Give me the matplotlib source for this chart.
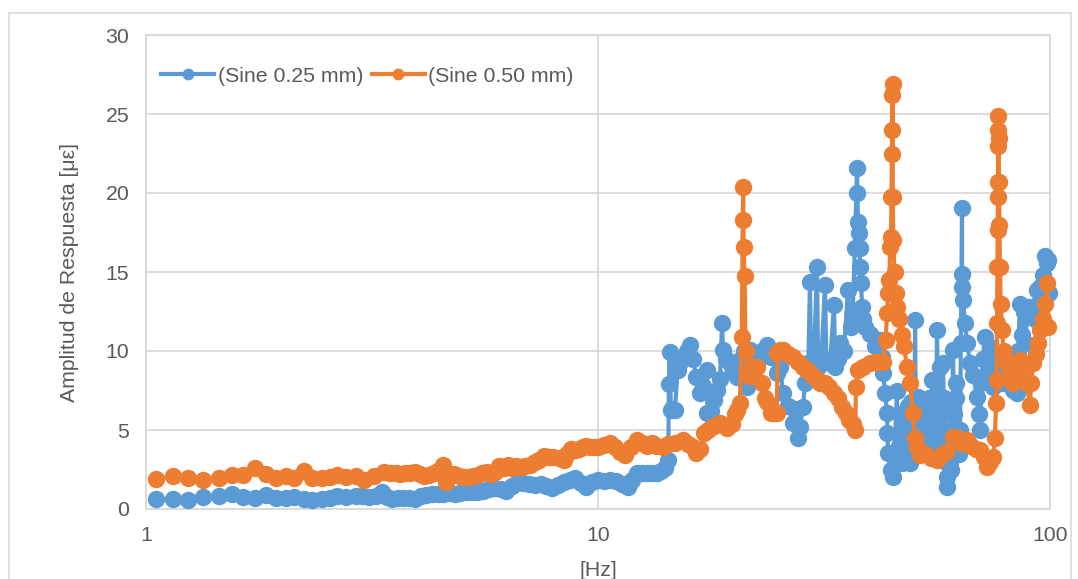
import matplotlib
matplotlib.use("Agg")
import matplotlib.pyplot as plt
from matplotlib.patches import Rectangle
from matplotlib.ticker import FixedLocator, NullLocator, FixedFormatter

plt.rcParams['font.family'] = ['Liberation Sans', 'DejaVu Sans']

# ---- data ----
freq_025 = [1.05, 1.15, 1.24, 1.34, 1.45, 1.55, 1.64, 1.74, 1.84, 1.94, 2.04, 2.13, 2.24, 2.33, 2.45,
            2.55, 2.64, 2.77, 2.91, 3.01, 3.11, 3.22, 3.33, 3.42, 3.50, 3.61, 3.71, 3.82, 3.93, 4.05,
            4.17, 4.30, 4.42, 4.55, 4.69, 4.82, 4.96, 5.11, 5.26, 5.41, 5.57, 5.74, 5.91, 6.09, 6.27,
            6.45, 6.64, 6.84, 7.05, 7.26, 7.47, 7.69, 7.92, 8.15, 8.40, 8.65, 8.90, 9.16, 9.43, 9.70,
            10.0, 10.3, 10.63, 10.95, 11.3, 11.65, 11.9, 12.2, 12.5, 12.85, 13.2, 13.51, 13.8, 14.1, 14.3,
            14.35, 14.4, 14.5, 14.6, 14.8, 15.0, 15.2, 15.42, 15.7, 15.98, 16.2, 16.5, 16.82, 17.1, 17.43,
            17.45, 17.8, 18.1, 18.34, 18.62, 18.81, 18.91, 19.2, 19.59, 19.9, 20.3, 20.7, 21.0, 21.36, 21.7,
            22.1, 22.47, 23.0, 23.65, 24.2, 24.89, 25.3, 25.66, 26.3, 27.01, 27.3, 27.70, 28.0, 28.41, 28.7,
            29.0, 29.2, 29.44, 29.6, 30.0, 30.51, 30.7, 31.2, 31.78, 32.0, 32.61, 33.27, 33.5, 34.0, 34.30,
            35.0, 35.73, 36.2, 36.6, 37.0, 37.41, 37.5, 37.6, 37.8, 37.9, 38.0, 38.2, 38.4, 38.57, 39.0,
            39.97, 41.0, 42.06, 42.4, 42.71, 43.2, 43.59, 43.7, 43.82, 44.4,
            44.96, 45.3, 45.86, 46.0, 46.3, 46.7, 47.0, 47.5, 48.0, 48.2, 48.5, 49.02, 49.2, 49.5, 50.0,
            50.1, 50.29, 50.5, 50.8, 51.0, 51.3, 51.57, 52.0, 52.2, 52.5, 52.9, 53.44, 53.8, 54.0, 54.4,
            54.82, 55.2, 55.7, 56.0, 56.23, 56.6, 57.0, 57.2, 57.6, 57.98, 58.2, 58.5, 58.8, 59.18, 59.3,
            59.5, 59.8, 60.08, 60.3, 60.5, 60.8, 61.0, 61.4, 61.8, 62.0, 62.5, 62.8, 63.23, 63.5, 63.88,
            63.9, 64.0, 64.21, 64.87, 65.54, 66.53, 67.5, 68.95, 69.5, 70.0, 70.5, 71.0, 71.81, 72.5, 73.0,
            73.67, 74.8, 75.0, 76.0, 77.52, 78.5, 79.5, 80.0, 81.0, 82.8, 83.5, 84.53, 85.0, 85.82, 86.5,
            87.5, 88.0, 88.95, 89.5, 90.5, 91.7, 92.5, 93.59, 94.0, 95.04, 96.5, 97.5, 98.49, 99.2, 99.5]
amp_025 = [0.65, 0.61, 0.58, 0.77, 0.82, 0.96, 0.77, 0.72, 0.89, 0.70, 0.70, 0.77, 0.65, 0.54, 0.65,
           0.72, 0.84, 0.77, 0.84, 0.80, 0.77, 0.80, 1.08, 0.75, 0.65, 0.72, 0.70, 0.68, 0.65, 0.80,
           0.89, 0.92, 0.94, 0.98, 1.00, 0.98, 1.00, 1.05, 1.08, 1.10, 1.12, 1.25, 1.36, 1.25, 1.17,
           1.45, 1.71, 1.62, 1.59, 1.55, 1.59, 1.45, 1.31, 1.50, 1.71, 1.85, 1.94, 1.65, 1.40, 1.70,
           1.82, 1.80, 1.84, 1.75, 1.60, 1.41, 1.85, 2.28, 2.25, 2.30, 2.28, 2.28, 2.40, 2.60, 3.10,
           7.90, 9.96, 6.27, 6.30, 6.27, 8.80, 9.30, 9.64, 10.0, 10.38, 9.50, 8.37, 7.34, 7.80, 8.80,
           6.08, 6.20, 6.90, 7.53, 8.20, 11.77, 10.06, 9.50, 9.24, 8.80, 8.37, 9.50, 10.0, 7.74, 10.06,
           9.50, 9.24, 10.0, 10.38, 9.60, 8.60, 9.00, 7.34, 6.50, 5.44, 6.30, 4.49, 5.19, 6.46, 7.97,
           8.80, 9.24, 14.37, 9.30, 8.90, 15.32, 9.00, 9.50, 14.18, 9.40, 9.24, 12.91, 9.00, 9.50, 10.5,
           10.0, 13.86, 11.5, 12.5, 16.5, 21.58, 20.0, 18.16, 17.5, 16.5, 15.3, 14.3, 12.8, 12.0, 11.5,
           11.1, 10.3, 10.7, 9.6, 8.6, 7.34, 6.08, 4.8, 3.54, 2.47,
           2.0, 3.5, 7.5, 3.0, 4.0, 6.0, 2.9, 5.0, 3.0, 4.5, 6.5, 2.9, 6.8, 5.0, 3.5,
           4.0, 11.96, 5.0, 3.5, 7.1, 5.5, 4.0, 6.5, 4.5, 3.8, 6.8, 5.0, 4.2, 7.0, 5.5,
           8.16, 4.5, 5.5, 4.0, 11.33, 6.0, 4.5, 9.0, 6.5, 9.24, 7.0, 5.0, 3.0, 1.39, 2.0,
           3.0, 4.5, 2.9, 2.5, 6.0, 4.5, 10.06, 6.0, 7.0, 8.0, 5.0, 3.5, 5.0, 10.5, 19.05,
           14.9, 14.05, 13.2, 11.77, 10.5, 9.24, 8.5, 7.1, 6.0, 5.0, 8.0, 9.5, 10.9, 9.5, 8.5,
           10.25, 7.72, 9.0, 8.0, 9.24, 8.0, 9.5, 8.5, 8.0, 7.53, 9.0, 7.34, 10.0, 13.0, 11.0,
           12.5, 10.5, 12.15, 12.8, 12.5, 12.8, 12.0, 13.86, 13.0, 14.05, 14.8, 16.0, 15.57, 15.76, 13.67]

freq_050 = [1.05, 1.15, 1.24, 1.34, 1.45, 1.55, 1.64, 1.74, 1.84, 1.94, 2.04, 2.13, 2.24, 2.33, 2.45,
            2.55, 2.64, 2.77, 2.91, 3.04, 3.2, 3.36, 3.46, 3.57, 3.65, 3.74, 3.83, 3.93, 4.03, 4.13,
            4.23, 4.33, 4.43, 4.53, 4.60, 4.7, 4.81, 4.92, 5.04, 5.16, 5.29, 5.42, 5.55, 5.69, 5.80,
            5.91, 6.03, 6.18, 6.33, 6.45, 6.58, 6.74, 6.90, 7.06, 7.24, 7.42, 7.60, 7.78, 7.97, 8.18,
            8.40, 8.55, 8.70, 8.90, 9.09, 9.26, 9.43, 9.60, 9.80, 10.0, 10.3, 10.63, 10.9, 11.2, 11.5,
            11.85, 12.2, 12.5, 12.85, 13.2, 13.51, 13.9, 14.28, 14.8, 15.42, 15.8, 16.2, 16.5, 16.82, 17.12,
            17.5, 17.85, 18.2, 18.6, 19.0, 19.3, 19.8, 20.1, 20.3, 20.6, 20.8, 20.9, 20.95, 21.0, 21.1,
            21.2, 21.36, 21.7, 22.0, 22.47, 23.0, 23.4, 23.65, 24.1, 24.5, 24.89, 24.95, 25.3, 25.66, 26.3,
            27.01, 27.7, 28.41, 29.0, 29.44, 30.0, 30.5, 31.0, 31.78, 32.5, 33.2, 34.0, 34.6, 35.3, 36.0,
            36.6, 37.1, 37.2, 37.6, 38.5, 39.97, 41.0, 42.0, 42.71, 43.3, 43.59, 43.82, 44.1, 44.3, 44.5,
            44.6, 44.7, 44.75, 44.8, 44.85, 44.9, 45.0, 45.3, 45.6, 45.9, 46.4, 47.0, 47.5, 48.28, 49.02,
            49.78, 50.2, 50.79, 51.57, 53.0, 54.5, 56.23, 57.5, 59.0, 61.0, 62.5, 63.5, 65.54, 67.0, 68.5,
            70.0, 71.5, 72.55, 73.5, 74.8, 75.5, 76.0, 76.2, 76.34, 76.5, 76.6, 76.7, 76.74, 76.8, 76.85,
            76.9, 76.95, 77.1, 77.3, 77.5, 77.8, 78.32, 79.0, 80.34, 81.5, 82.8, 84.0, 85.82, 87.5, 88.95,
            90.2, 91.0, 91.71, 93.0, 94.0, 95.04, 96.5, 97.5, 98.5, 99.0]
amp_050 = [1.90, 2.06, 1.96, 1.82, 1.99, 2.17, 2.17, 2.57, 2.24, 1.94, 2.10, 1.94, 2.41, 1.99, 1.99,
           2.05, 2.17, 2.00, 2.06, 1.82, 2.06, 2.34, 2.25, 2.29, 2.20, 2.29, 2.25, 2.34, 2.20, 2.06,
           2.15, 2.29, 2.40, 2.81, 1.71, 2.10, 2.20, 2.06, 2.00, 2.00, 2.10, 2.17, 2.25, 2.34, 2.20,
           2.34, 2.71, 2.60, 2.81, 2.60, 2.69, 2.65, 2.71, 2.80, 2.95, 3.10, 3.34, 3.30, 3.27, 3.20,
           3.10, 3.50, 3.81, 3.75, 3.81, 3.90, 3.97, 3.93, 3.95, 3.93, 4.05, 4.16, 3.90, 3.60, 3.42,
           3.90, 4.37, 4.20, 4.00, 4.16, 4.00, 3.93, 4.10, 4.20, 4.37, 4.10, 3.90, 3.54, 3.80, 4.80,
           5.00, 5.19, 5.30, 5.44, 5.30, 5.12, 5.40, 6.00, 6.27, 6.70, 10.9, 18.29, 20.36, 16.6, 14.75,
           10.0, 8.60, 8.40, 9.00, 9.00, 8.00, 7.00, 6.80, 6.08, 6.10, 6.08, 9.87, 10.06, 10.06, 9.80,
           9.60, 9.30, 9.00, 8.80, 8.60, 8.35, 8.20, 8.00, 7.97, 7.70, 7.34, 7.00, 6.46, 6.10, 5.63,
           5.40, 5.00, 7.70, 8.80, 9.00, 9.24, 9.30, 9.30, 9.30, 10.7, 12.4, 13.67, 14.5, 16.6, 17.2,
           19.75, 22.5, 24.0, 26.2, 26.9, 19.75, 17.0, 15.0, 13.67, 12.8, 12.0, 11.0, 10.3, 9.00, 7.97,
           6.08, 4.50, 3.93, 3.42, 3.50, 3.20, 3.10, 3.40, 3.60, 4.56, 4.50, 4.20, 4.37, 4.00, 3.80,
           3.73, 3.30, 2.66, 3.00, 3.30, 4.50, 6.70, 8.16, 11.77, 15.3, 17.66, 19.75, 20.7, 23.0, 24.0,
           24.9, 23.5, 20.7, 18.0, 15.3, 13.0, 11.33, 10.0, 9.24, 8.60, 7.97, 8.50, 9.43, 9.00, 7.97,
           6.58, 8.00, 9.24, 9.80, 10.5, 11.33, 12.0, 13.0, 14.3, 11.5]

series_labels = ['(Sine 0.25 mm)', '(Sine 0.50 mm)']
x_ticks = [1, 10, 100]
x_tick_labels = ['1', '10', '100']
y_ticks = [0, 5, 10, 15, 20, 25, 30]

BLUE = '#5B9BD5'
ORANGE = '#ED7D31'
GRID = '#D9D9D9'
TXT = '#595959'
FS = 15.3

fig = plt.figure(figsize=(10.78, 5.79), dpi=100)
ax = fig.add_axes([146/1078, 1 - 509/579, 904/1078, 474/579])

ax.plot(freq_025, amp_025, color=BLUE, lw=3.0, marker='o', ms=11.5, mec=BLUE, mfc=BLUE,
        label=series_labels[0], clip_on=False, zorder=3)
ax.plot(freq_050, amp_050, color=ORANGE, lw=3.0, marker='o', ms=11.5, mec=ORANGE, mfc=ORANGE,
        label=series_labels[1], clip_on=False, zorder=4)

ax.set_xscale('log')
ax.set_xlim(1, 100)
ax.set_ylim(0, 30)
ax.xaxis.set_major_locator(FixedLocator(x_ticks))
ax.xaxis.set_major_formatter(FixedFormatter(x_tick_labels))
ax.xaxis.set_minor_locator(NullLocator())
ax.set_yticks(y_ticks)

ax.grid(True, which='major', color=GRID, lw=1.3, zorder=0)
ax.set_axisbelow(True)
for s in ax.spines.values():
    s.set_color(GRID)
    s.set_linewidth(1.3)
ax.tick_params(axis='both', length=0, labelsize=FS, labelcolor=TXT)
ax.tick_params(axis='y', pad=12)
ax.tick_params(axis='x', pad=12)

ax.set_ylabel('Amplitud de Respuesta [με]', fontsize=FS, color=TXT, labelpad=19)
ax.set_xlabel('[Hz]', fontsize=FS, color=TXT, labelpad=12)

leg = ax.legend(loc='center left', bbox_to_anchor=(0.017, 0.9135), ncol=2, frameon=False,
                fontsize=FS, handlelength=2.5, handletextpad=0.15, columnspacing=0.4,
                borderpad=0, borderaxespad=0, markerscale=0.65)
for t in leg.get_texts():
    t.set_color(TXT)

fig.patches.append(Rectangle((9/1078, -0.05), 1062/1078, 1.05 - 13/579,
                             transform=fig.transFigure, fill=False, ec=GRID, lw=1.2))

fig.savefig('out.png', dpi=100)
